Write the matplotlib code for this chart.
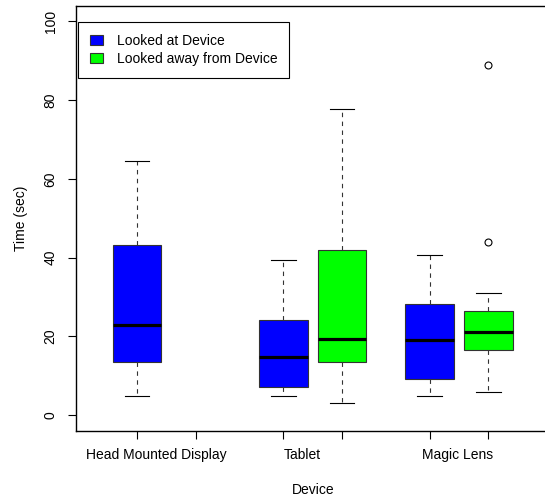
import matplotlib
matplotlib.use("Agg")
import matplotlib.pyplot as plt
from matplotlib.patches import Patch

plt.rcParams['font.family'] = ['Liberation Sans', 'DejaVu Sans']

devices = ["Head Mounted Display", "Tablet", "Magic Lens"]
conditions = ["Looked at Device", "Looked away from Device"]
colors = ["#0000FF", "#00FF00"]

# looked at device (HMD, Tablet, Magic Lens)
at_lo = [5.0, 5.0, 4.8]
at_q1 = [13.4, 7.1, 9.2]
at_med = [23.0, 14.9, 19.2]
at_q3 = [43.1, 24.2, 28.3]
at_hi = [64.6, 39.3, 40.7]
at_fliers = [[], [], []]

# looked away from device (no data for HMD)
away_lo = [None, 3.1, 6.0]
away_q1 = [None, 13.4, 16.5]
away_med = [None, 19.3, 21.1]
away_q3 = [None, 42.0, 26.5]
away_hi = [None, 77.7, 31.0]
away_fliers = [[], [], [44.0, 89.0]]

yticks = [0, 20, 40, 60, 80, 100]

fig = plt.figure(figsize=(5.45, 4.97), dpi=100)
ax = fig.add_axes([75.7 / 545, 66 / 497, 474 / 545, 425.5 / 497])

positions = [1, 2, 3.5, 4.5, 6, 7]
label_pos = [1.33, 3.82, 6.48]

stats, pos, cols = [], [], []
for i in range(3):
    series = [
        (at_lo, at_q1, at_med, at_q3, at_hi, at_fliers),
        (away_lo, away_q1, away_med, away_q3, away_hi, away_fliers),
    ]
    for j, (lo, q1, med, q3, hi, fl) in enumerate(series):
        if med[i] is None:
            continue
        stats.append(dict(whislo=lo[i], q1=q1[i], med=med[i], q3=q3[i],
                          whishi=hi[i], fliers=fl[i]))
        pos.append(positions[2 * i + j])
        cols.append(colors[j])

bp = ax.bxp(stats, positions=pos, widths=0.83, patch_artist=True,
            manage_ticks=False,
            boxprops=dict(edgecolor='#333333', linewidth=0.8),
            medianprops=dict(color='black', linewidth=2.3, solid_capstyle='butt'),
            whiskerprops=dict(color='#333333', linewidth=0.8, linestyle=(0, (4, 4))),
            capprops=dict(color='black', linewidth=0.8),
            capwidths=0.42,
            flierprops=dict(marker='o', markerfacecolor='none',
                            markeredgecolor='black', markersize=5,
                            markeredgewidth=0.8))
for patch, c in zip(bp['boxes'], cols):
    patch.set_facecolor(c)

ax.set_xlim(-0.05, 8.05)
ax.set_ylim(-4, 104)
ax.set_yticks(yticks)
ax.set_yticklabels([str(v) for v in yticks])
ax.tick_params(axis='y', labelrotation=90, length=6, width=0.8, pad=7,
               labelsize=10)
for lab in ax.get_yticklabels():
    lab.set_va('center')

ax.set_xticks(positions)
ax.set_xticklabels([''] * len(positions))
ax.tick_params(axis='x', length=6, width=0.8)
ax.set_xticks(label_pos, minor=True)
ax.set_xticklabels(devices, minor=True)
ax.tick_params(axis='x', which='minor', length=0, pad=12.5, labelsize=10)

for sp in ax.spines.values():
    sp.set_linewidth(1.0)

ax.set_xlabel("Device", fontsize=10, labelpad=15)
ax.set_ylabel("Time (sec)", fontsize=10, labelpad=11)

handles = [Patch(facecolor=c, edgecolor='#333333', linewidth=0.8) for c in colors]
leg = ax.legend(handles, conditions, loc='upper left',
                bbox_to_anchor=(0.005, 0.961), borderaxespad=0,
                fancybox=False, framealpha=1, edgecolor='black',
                fontsize=10, handlelength=0.95, handleheight=0.7,
                handletextpad=1.0, borderpad=0.85, labelspacing=0.3)
leg.get_frame().set_linewidth(0.8)

fig.savefig("out.png", dpi=100)
